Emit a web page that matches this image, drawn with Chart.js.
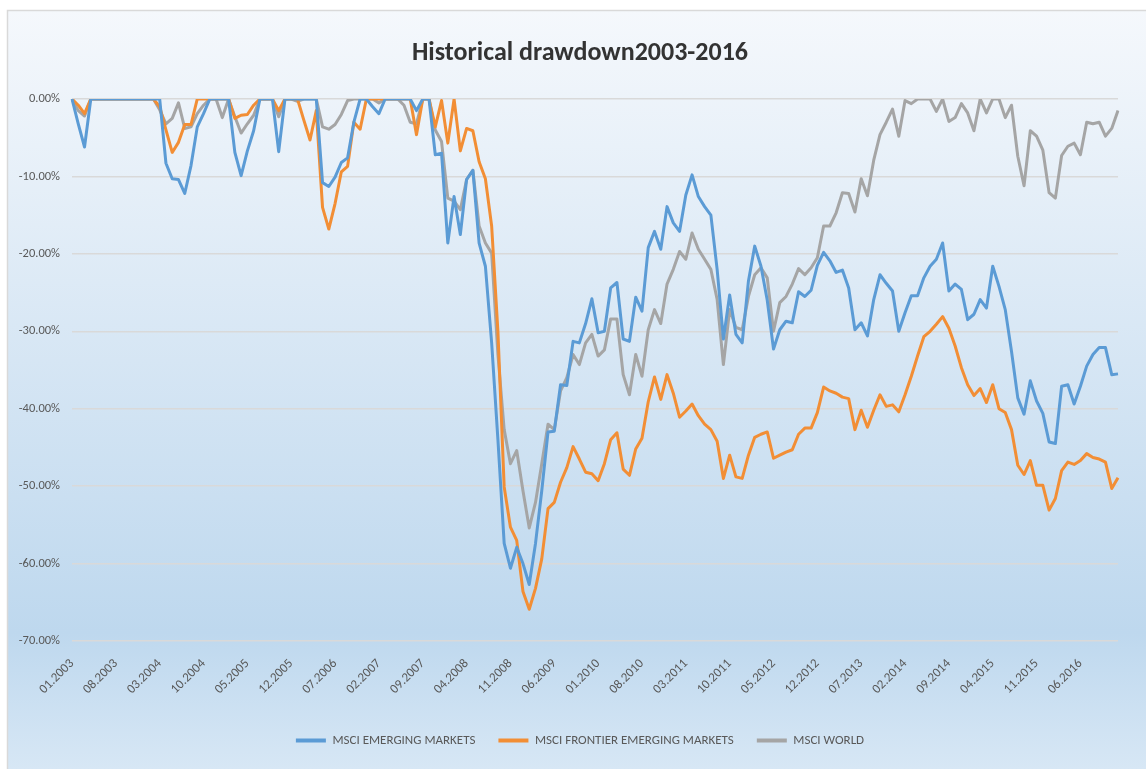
<!DOCTYPE html>
<html>
<head>
<meta charset="utf-8">
<title>Historical drawdown 2003-2016</title>
<script src="https://cdn.jsdelivr.net/npm/chart.js@4.4.1/dist/chart.umd.min.js"></script>
<style>
    html, body { margin: 0; padding: 0; background: #ffffff; }
    #wrap { position: relative; width: 1146px; height: 769px; }
</style>
</head>
<body>
<div id="wrap"><canvas id="drawdownChart"></canvas></div>
<script>
// monthly drawdowns in percent, 01.2003 .. 12.2016, one row per year
const firstYear = 2003;
const emergingMarkets = [
    0, -3.2, -6.2, 0, 0, 0, 0, 0, 0, 0, 0, 0,
    0, 0, 0, -8.3, -10.3, -10.4, -12.2, -8.6, -3.6, -1.9, 0, 0,
    0, 0, -6.9, -9.9, -6.7, -4.1, 0, 0, 0, -6.8, 0, 0,
    0, 0, 0, 0, -10.8, -11.3, -10.1, -8.2, -7.6, -3, 0, 0,
    -1, -1.9, 0, 0, 0, 0, 0, -1.5, 0, 0, -7.2, -7,
    -18.6, -12.6, -17.5, -10.4, -9.2, -18.6, -21.6, -31.5, -44, -57.4, -60.6, -57.9,
    -60, -62.7, -57.4, -50.6, -43, -42.9, -36.9, -37, -31.3, -31.5, -29, -25.8,
    -30.2, -30, -24.4, -23.7, -31, -31.3, -25.6, -27.4, -19.2, -17.1, -19.4, -13.9,
    -16, -17.1, -12.4, -9.8, -12.6, -13.9, -15, -22, -31, -25.3, -30.4, -31.5,
    -23.5, -19, -21.6, -26, -32.3, -29.8, -28.7, -28.9, -24.9, -25.5, -24.7, -21.5,
    -19.8, -20.9, -22.4, -22.1, -24.4, -29.8, -28.9, -30.6, -25.9, -22.7, -23.8, -24.8,
    -30, -27.6, -25.4, -25.4, -23.1, -21.6, -20.7, -18.6, -24.8, -23.9, -24.6, -28.5,
    -27.8, -25.9, -27, -21.6, -24.2, -27.2, -32.6, -38.6, -40.7, -36.4, -39, -40.6,
    -44.3, -44.5, -37.1, -36.9, -39.4, -37.1, -34.5, -33, -32.1, -32.1, -35.6, -35.5
];
const frontierMarkets = [
    0, -0.8, -1.9, 0, 0, 0, 0, 0, 0, 0, 0, 0,
    0, 0, -1, -4, -6.9, -5.6, -3.3, -3.3, 0, 0, 0, 0,
    0, 0, -2.5, -2.1, -2, -0.8, 0, 0, 0, -1.5, 0, 0,
    0, -2.7, -5.3, -1.5, -14, -16.8, -13.5, -9.4, -8.7, -3, -3.9, 0,
    0, 0, 0, 0, 0, 0, 0, -4.6, 0, 0, -3.6, -0.2,
    -5.7, 0, -6.7, -3.8, -4.1, -8.1, -10.3, -16.4, -30, -50.1, -55.3, -57,
    -63.6, -65.9, -63.2, -59.4, -52.9, -52.1, -49.5, -47.6, -44.9, -46.5, -48.2, -48.4,
    -49.3, -47.1, -44, -43.1, -47.8, -48.6, -45.2, -43.8, -39.1, -35.9, -38.8, -35.6,
    -38, -41.1, -40.3, -39.4, -40.9, -42, -42.7, -44.2, -49, -46, -48.8, -49,
    -46, -43.7, -43.3, -43, -46.4, -46, -45.6, -45.3, -43.3, -42.5, -42.5, -40.5,
    -37.2, -37.7, -38, -38.5, -38.7, -42.7, -40.2, -42.4, -40.2, -38.2, -39.7, -39.5,
    -40.4, -38.2, -35.8, -33.2, -30.7, -30, -29.1, -28.1, -29.6, -31.9, -34.7, -36.9,
    -38.3, -37.4, -39.2, -36.9, -40, -40.5, -42.7, -47.3, -48.5, -46.7, -49.9, -49.9,
    -53.1, -51.6, -48, -46.9, -47.2, -46.7, -45.8, -46.3, -46.5, -46.9, -50.3, -48.9
];
const world = [
    0, -1.5, -2.2, 0, 0, 0, 0, 0, 0, 0, 0, 0,
    0, 0, -1.4, -3.2, -2.5, -0.5, -3.8, -3.6, -1.9, -0.8, 0, 0,
    -2.4, 0, -2.3, -4.4, -3.2, -2.1, 0, 0, 0, -2.3, 0, 0,
    -0.3, 0, 0, 0, -3.6, -3.9, -3.3, -2, -0.2, 0, 0, 0,
    0, -0.5, 0, 0, 0, -0.8, -3, -3.2, 0, 0, -4, -5.5,
    -12.8, -13.2, -14.3, -10.4, -9.2, -16.4, -18.6, -19.9, -33, -42.7, -47.1, -45.4,
    -50.6, -55.4, -52.1, -47.1, -42, -42.7, -37.7, -36, -33, -34.3, -31.5, -30.4,
    -33.2, -32.4, -28.4, -28.4, -35.6, -38.2, -33, -35.8, -29.8, -27.2, -29, -23.9,
    -22, -19.7, -20.7, -17.3, -19.4, -20.7, -22, -25.9, -34.3, -27.2, -29.5, -29.8,
    -25.5, -22.7, -21.8, -23.1, -30, -26.3, -25.5, -23.9, -21.9, -22.7, -21.8, -20.5,
    -16.4, -16.4, -14.7, -12.1, -12.2, -14.6, -10.3, -12.5, -7.9, -4.6, -3, -1.3,
    -4.8, -0.2, -0.6, 0, 0, 0, -1.6, 0, -2.9, -2.4, -0.6, -1.8,
    -4.1, 0, -1.8, 0, 0, -2.4, -0.8, -7.4, -11.2, -4.1, -4.8, -6.6,
    -12.1, -12.8, -7.3, -6.1, -5.7, -7.2, -3, -3.2, -3, -4.8, -3.8, -1.5
];
const tickLabels = [
    "01.2003", "08.2003", "03.2004", "10.2004", "05.2005", "12.2005",
    "07.2006", "02.2007", "09.2007", "04.2008", "11.2008", "06.2009",
    "01.2010", "08.2010", "03.2011", "10.2011", "05.2012", "12.2012",
    "07.2013", "02.2014", "09.2014", "04.2015", "11.2015", "06.2016"
];
const yTicks = [0, -10, -20, -30, -40, -50, -60, -70];

const months = emergingMarkets.map((value, index) => {
    const month = (index % 12) + 1;
    const year = firstYear + Math.floor(index / 12);
    return `${month < 10 ? "0" : ""}${month}.${year}`;
});

const labelFont = "Carlito, 'DejaVu Sans Condensed', sans-serif";
const textGrey = "#595959";

// white margin, then the framed chart area with the soft blue gradient
const chartBackground = {
    id: "chartBackground",
    beforeDraw(chart) {
        const ctx = chart.ctx;
        const w = chart.width;
        const h = chart.height;
        ctx.save();
        ctx.fillStyle = "#ffffff";
        ctx.fillRect(0, 0, w, h);
        const grad = ctx.createLinearGradient(0, 10, 0, h);
        grad.addColorStop(0, "#f5f8fc");
        grad.addColorStop(0.82, "#bed8ee");
        grad.addColorStop(1, "#d7e7f5");
        ctx.fillStyle = grad;
        ctx.fillRect(7, 10, w - 7, h - 10);
        ctx.strokeStyle = "#d9d9d9";
        ctx.lineWidth = 1.5;
        ctx.beginPath();
        ctx.moveTo(w, 10.5);
        ctx.lineTo(7.5, 10.5);
        ctx.lineTo(7.5, h);
        ctx.stroke();
        ctx.restore();
    }
};

function series(label, values, color) {
    return {
        label: label,
        data: values,
        borderColor: color,
        backgroundColor: color,
        borderWidth: 3,
        pointRadius: 0,
        pointHoverRadius: 0,
        tension: 0,
        fill: false,
        borderJoinStyle: "round"
    };
}

new Chart(document.getElementById("drawdownChart"), {
    type: "line",
    data: {
        labels: months,
        datasets: [
            series("MSCI EMERGING MARKETS", emergingMarkets, "#5b9bd5"),
            series("MSCI FRONTIER EMERGING MARKETS", frontierMarkets, "#f28e35"),
            series("MSCI WORLD", world, "#a5a5a5")
        ]
    },
    options: {
        responsive: true,
        maintainAspectRatio: false,
        animation: false,
        layout: {padding: {left: 14, right: 0, top: 0, bottom: 12}},
        plugins: {
            title: {
                display: true,
                text: "Historical drawdown2003-2016",
                color: "#333333",
                font: {family: labelFont, size: 26, weight: "bold"},
                padding: {top: 38, bottom: 29.8}
            },
            legend: {
                position: "bottom",
                labels: {
                    color: textGrey,
                    font: {family: labelFont, size: 13},
                    boxWidth: 30,
                    boxHeight: 4,
                    padding: 23,
                    generateLabels(chart) {
                        return chart.data.datasets.map((ds, i) => ({
                            text: ds.label,
                            fillStyle: ds.borderColor,
                            strokeStyle: ds.borderColor,
                            lineWidth: 0,
                            fontColor: textGrey,
                            datasetIndex: i,
                            hidden: false
                        }));
                    }
                }
            },
            tooltip: {enabled: false}
        },
        scales: {
            x: {
                grid: {display: false},
                border: {display: false},
                offset: false,
                ticks: {
                    autoSkip: false,
                    minRotation: 45,
                    maxRotation: 45,
                    padding: 7,
                    color: textGrey,
                    font: {family: labelFont, size: 13},
                    callback(value, index) {
                        return tickLabels.includes(months[index]) ? months[index] : null;
                    }
                },
                afterFit(scale) {
                    scale.height = 70;
                }
            },
            y: {
                min: -70,
                max: 0,
                border: {display: false},
                grid: {color: "#d9d9d9", lineWidth: 1.5, drawTicks: false},
                afterBuildTicks(scale) {
                    scale.ticks = yTicks.map((v) => ({value: v}));
                },
                ticks: {
                    padding: 12,
                    color: textGrey,
                    font: {family: labelFont, size: 12.5},
                    callback(value) {
                        return `${value.toFixed(2)}%`;
                    }
                },
                afterFit(scale) {
                    scale.width = 58;
                }
            },
            // empty right-hand strip, keeps the plot edge where the original has it
            yRight: {
                position: "right",
                grid: {display: false},
                border: {display: false},
                ticks: {display: false},
                afterFit(scale) {
                    scale.width = 28;
                }
            }
        }
    },
    plugins: [chartBackground]
});
</script>
</body>
</html>
